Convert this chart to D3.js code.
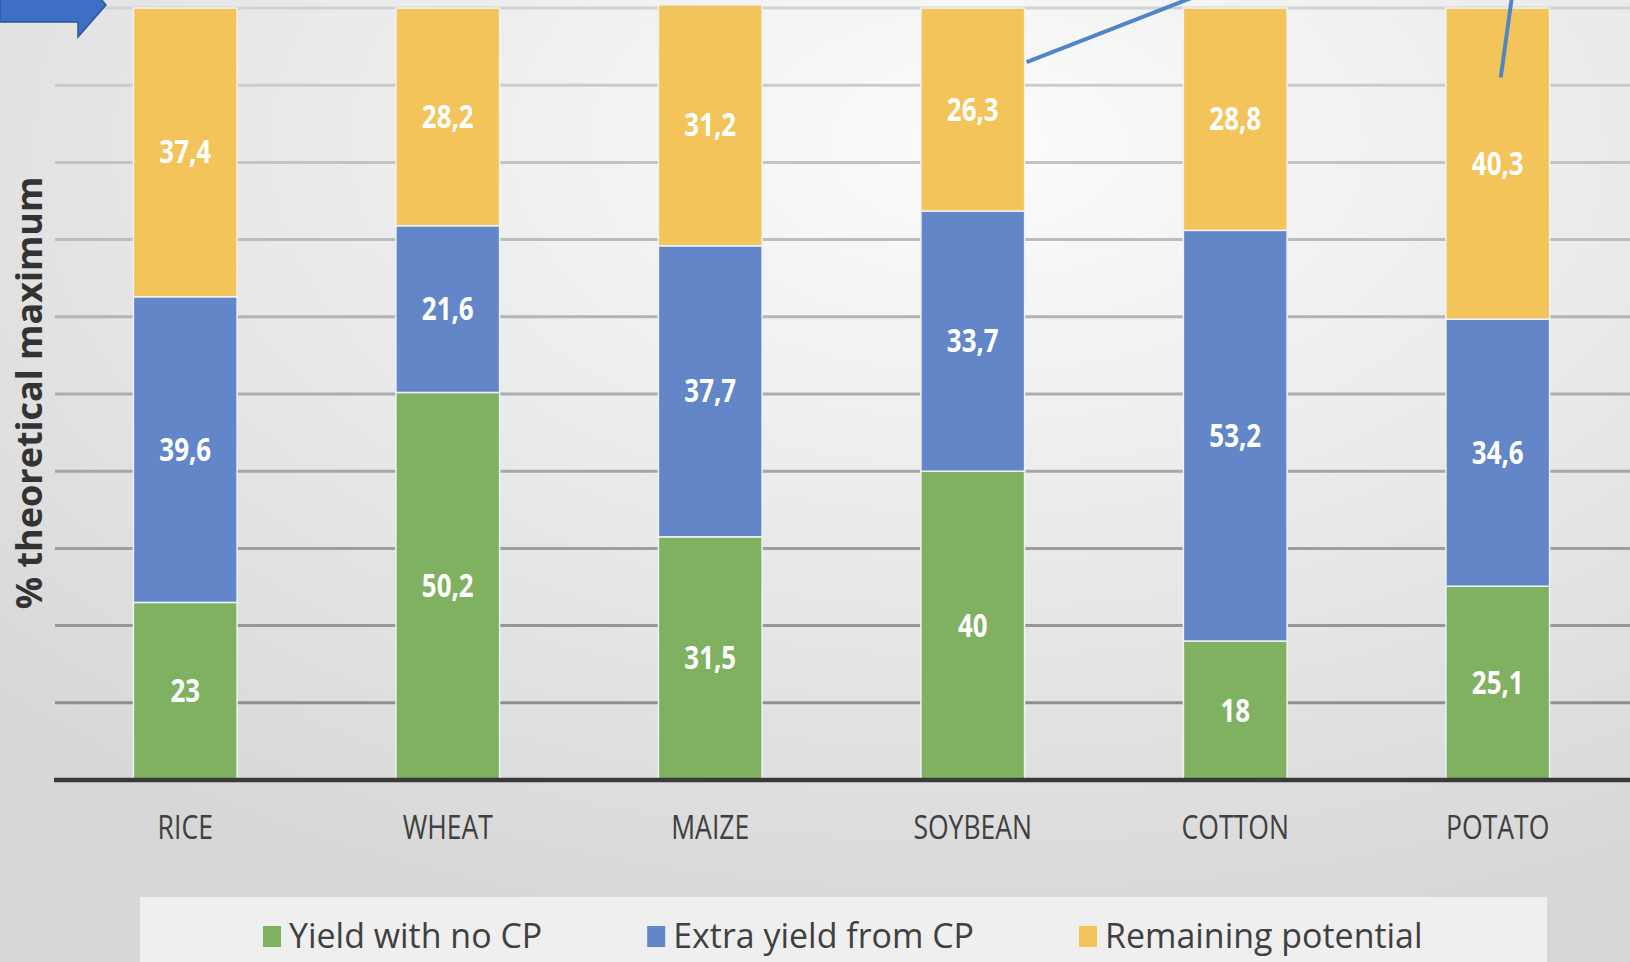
<!DOCTYPE html>
<html lang="en">
<head>
    <meta charset="UTF-8">
    <title>Crop protection yield potential</title>
    <script src="https://d3js.org/d3.v7.min.js"></script>
    <style>
        body { margin: 0; background: #e4e4e4; }
        svg { display: block; }
        text { font-family: "Open Sans", "Noto Sans", sans-serif; }
    </style>
</head>
<body>
    <script>
        var w = 1630;
        var h = 962;

        // data (% of theoretical maximum)
        var categories = ["RICE", "WHEAT", "MAIZE", "SOYBEAN", "COTTON", "POTATO"];
        var yieldNoCP = [23, 50.2, 31.5, 40, 18, 25.1];
        var extraFromCP = [39.6, 21.6, 37.7, 33.7, 53.2, 34.6];
        var remainingPotential = [37.4, 28.2, 31.2, 26.3, 28.8, 40.3];
        var seriesNames = ["Yield with no CP", "Extra yield from CP", "Remaining potential"];
        var seriesColors = ["#80b161", "#6286c8", "#f3c459"];
        var yTicks = d3.range(0, 101, 10);

        var svg = d3.select("body")
            .append("svg")
            .attr("width", w)
            .attr("height", h);

        // background gradient
        var defs = svg.append("defs");
        var grad = defs.append("radialGradient")
            .attr("id", "bg")
            .attr("cx", "60%").attr("cy", "15%").attr("r", "85%");
        grad.append("stop").attr("offset", "0%").attr("stop-color", "#fcfcfc");
        grad.append("stop").attr("offset", "100%").attr("stop-color", "#d7d7d7");
        svg.append("rect")
            .attr("width", w).attr("height", h)
            .attr("fill", "url(#bg)");

        var xScale = d3.scaleBand()
            .domain(categories)
            .range([54, 1629])
            .paddingInner(0.605)
            .paddingOuter(0.3025);

        var yScale = d3.scaleLinear()
            .domain([0, 100])
            .range([780, 8]);

        // gridlines, lighter towards the top
        var gridColor = d3.scaleLinear().domain([0, 100]).range(["#888888", "#d2d2d2"]);
        svg.append("g")
            .selectAll("line")
            .data(yTicks.slice(1))
            .enter()
            .append("line")
            .attr("x1", 55)
            .attr("x2", w)
            .attr("y1", function(d) { return yScale(d); })
            .attr("y2", function(d) { return yScale(d); })
            .attr("stroke", function(d) { return gridColor(d); })
            .attr("stroke-width", 3);

        // stacked bars
        var table = categories.map(function(c, i) {
            return { cat: c, s0: yieldNoCP[i], s1: extraFromCP[i], s2: remainingPotential[i] };
        });
        var stack = d3.stack().keys(["s0", "s1", "s2"]);
        var layers = stack(table);

        var groups = svg.selectAll("g.layer")
            .data(layers)
            .enter()
            .append("g")
            .attr("class", "layer")
            .attr("fill", function(d, i) { return seriesColors[i]; });

        groups.selectAll("rect")
            .data(function(d) { return d; })
            .enter()
            .append("rect")
            .attr("x", function(d) { return xScale(d.data.cat); })
            .attr("y", function(d) { return yScale(d[1]); })
            .attr("width", xScale.bandwidth())
            .attr("height", function(d) { return yScale(d[0]) - yScale(d[1]); })
            .attr("stroke", "#eef2f6")
            .attr("stroke-width", 1.5);

        // value labels in the middle of each segment
        var sx = 0.81;
        groups.selectAll("text")
            .data(function(d) { return d; })
            .enter()
            .append("text")
            .attr("transform", function(d) {
                var cx = xScale(d.data.cat) + xScale.bandwidth() / 2;
                var cy = (yScale(d[0]) + yScale(d[1])) / 2 + 11;
                return "translate(" + cx + "," + cy + ") scale(" + sx + ",1)";
            })
            .attr("text-anchor", "middle")
            .attr("fill", "#ffffff")
            .attr("font-weight", "bold")
            .attr("font-size", "32px")
            .text(function(d) { return String(+(d[1] - d[0]).toFixed(1)).replace(".", ","); });

        // baseline
        svg.append("line")
            .attr("x1", 54).attr("x2", w)
            .attr("y1", yScale(0)).attr("y2", yScale(0))
            .attr("stroke", "#3a3a3a")
            .attr("stroke-width", 4.5);

        // category labels
        svg.append("g")
            .selectAll("text")
            .data(categories)
            .enter()
            .append("text")
            .attr("transform", function(d) {
                return "translate(" + (xScale(d) + xScale.bandwidth() / 2) + ",839) scale(0.83,1)";
            })
            .attr("text-anchor", "middle")
            .attr("fill", "#404040")
            .attr("font-size", "32px")
            .text(function(d) { return d; });

        // y axis title
        svg.append("text")
            .attr("transform", "translate(42,393) rotate(-90)")
            .attr("text-anchor", "middle")
            .attr("fill", "#333333")
            .attr("font-weight", "bold")
            .attr("font-size", "36px")
            .text("% theoretical maximum");

        // legend
        svg.append("rect")
            .attr("x", 140).attr("y", 897)
            .attr("width", 1407).attr("height", 70)
            .attr("fill", "#efefef");

        var legend = svg.append("g");
        var items = legend.selectAll("g")
            .data(seriesNames)
            .enter()
            .append("g");
        items.append("rect")
            .attr("y", 926)
            .attr("width", 18)
            .attr("height", 21)
            .attr("fill", function(d, i) { return seriesColors[i]; });
        var legendScale = 0.97;
        items.append("text")
            .attr("transform", "translate(26,948) scale(" + legendScale + ",1)")
            .attr("fill", "#404040")
            .attr("font-size", "35px")
            .text(function(d) { return d; });

        // lay the legend items out one after another
        var gap = 105;
        var pos = 263;
        items.each(function() {
            var g = d3.select(this);
            g.attr("transform", "translate(" + pos + ",0)");
            var tw = g.select("text").node().getComputedTextLength() * legendScale;
            pos += 26 + tw + gap;
        });

        // annotation arrow top left and pointer lines
        svg.append("path")
            .attr("d", "M0,-12 L78,-12 L78,-27 L106,5 L78,37 L78,22 L0,22 Z")
            .attr("fill", "#3d6fc4")
            .attr("stroke", "#2c56a0")
            .attr("stroke-width", 1.5);

        svg.append("line")
            .attr("x1", xScale("SOYBEAN") + xScale.bandwidth() + 2)
            .attr("y1", yScale(93))
            .attr("x2", xScale("COTTON") + 8)
            .attr("y2", yScale(101.3))
            .attr("stroke", "#4f86c6")
            .attr("stroke-width", 4);

        svg.append("line")
            .attr("x1", xScale("POTATO") + xScale.bandwidth() / 2 + 14)
            .attr("y1", yScale(101.3))
            .attr("x2", xScale("POTATO") + xScale.bandwidth() / 2 + 3)
            .attr("y2", yScale(91))
            .attr("stroke", "#4f86c6")
            .attr("stroke-width", 4);
    </script>
</body>
</html>
